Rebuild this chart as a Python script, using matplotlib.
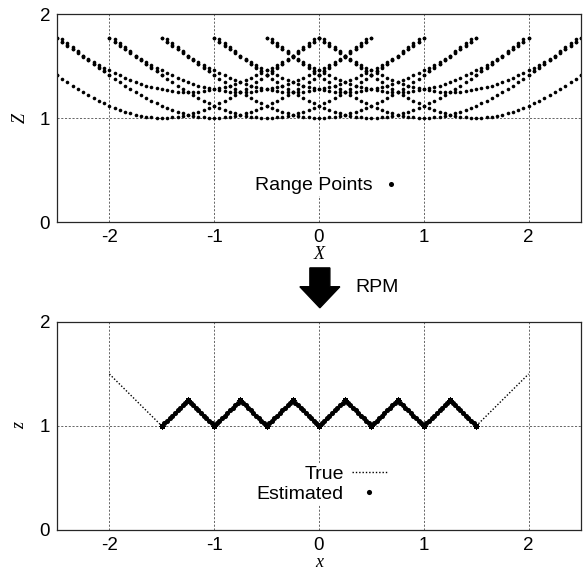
import numpy as np
import matplotlib.pyplot as plt
from matplotlib.patches import FancyArrow

plt.rcParams['font.family'] = ['Liberation Sans', 'DejaVu Sans']
plt.rcParams['axes.unicode_minus'] = False

# true target boundary, vertices
surf_x = [-2.0, -1.5, -1.25, -1.0, -0.75, -0.5, -0.25, 0.0,
          0.25, 0.5, 0.75, 1.0, 1.25, 1.5, 2.0]
surf_z = [1.5, 1.0, 1.25, 1.0, 1.25, 1.0, 1.25, 1.0,
          1.25, 1.0, 1.25, 1.0, 1.25, 1.0, 1.5]

# radar positions along X (z = 0) and the range gate
sensor_x = np.linspace(-2.5, 2.5, 101)
max_range = 1.77

x_ticks = [-2, -1, 0, 1, 2]
z_ticks = [0, 1, 2]


def range_points(sx, vx, vz, rmax):
    """range to edges (inner vertices) and to facets (specular foot)."""
    rx, rz, ex, ez = [], [], [], []
    vx = np.asarray(vx)
    vz = np.asarray(vz)
    for X in sx:
        # edges
        for i in range(1, len(vx) - 1):
            r = np.hypot(X - vx[i], vz[i])
            if r <= rmax:
                rx.append(X); rz.append(r)
                ex.append(vx[i]); ez.append(vz[i])
        # facets
        for i in range(len(vx) - 1):
            p = np.array([vx[i], vz[i]])
            d = np.array([vx[i + 1], vz[i + 1]]) - p
            t = np.dot(np.array([X, 0.0]) - p, d) / np.dot(d, d)
            if 0 <= t <= 1:
                foot = p + t * d
                r = np.hypot(X - foot[0], foot[1])
                if r <= rmax:
                    rx.append(X); rz.append(r)
                    if -1.5 <= foot[0] <= 1.5:
                        ex.append(foot[0]); ez.append(foot[1])
    return rx, rz, ex, ez


rng_x, rng_z, est_x, est_z = range_points(sensor_x, surf_x, surf_z, max_range)

fig = plt.figure(figsize=(5.88, 5.70), dpi=100)
ax1 = fig.add_axes([0.0969, 0.6105, 0.8912, 0.3649])
ax2 = fig.add_axes([0.0969, 0.0702, 0.8912, 0.3649])

ax1.plot(rng_x, rng_z, 'o', color='black', ms=2.6, mew=0, label='Range Points')
leg1 = ax1.legend(loc='center', bbox_to_anchor=(0.515, 0.175), markerfirst=False,
                  fontsize=14, frameon=True, fancybox=False, framealpha=1,
                  edgecolor='none', borderpad=0.1, handlelength=0.8,
                  handletextpad=0.5, markerscale=1.4)

ax2.plot(surf_x, surf_z, color='black', lw=1.0, ls=(0, (1, 1.4)), label='True')
ax2.plot(est_x, est_z, 'o', color='black', ms=3.7, mew=0, label='Estimated')
leg2 = ax2.legend(loc='center', bbox_to_anchor=(0.505, 0.22), markerfirst=False,
                  fontsize=14, frameon=True, fancybox=False, framealpha=1,
                  edgecolor='none', borderpad=0.1, handlelength=1.8,
                  handletextpad=0.4, labelspacing=0.15)

for ax, xl, yl in [(ax1, 'X', 'Z'), (ax2, 'x', 'z')]:
    ax.set_xlim(-2.5, 2.5)
    ax.set_ylim(0, 2)
    ax.set_xticks(x_ticks)
    ax.set_yticks(z_ticks)
    ax.tick_params(length=0, labelsize=13.5, pad=5)
    ax.grid(True, color='0.3', lw=0.6, ls=(0, (2.5, 2)))
    for s in ax.spines.values():
        s.set_linewidth(0.9)
        s.set_color('0.15')
    ax.set_axisbelow(True)

ax1.set_xlabel('X', family='Liberation Serif', style='italic', fontsize=13, labelpad=0)
ax1.set_ylabel('Z', family='Liberation Serif', style='italic', fontsize=13, labelpad=8)
ax2.set_xlabel('x', family='Liberation Serif', style='italic', fontsize=13, labelpad=0)
ax2.set_ylabel('z', family='Liberation Serif', style='italic', fontsize=13, labelpad=8)

# RPM arrow between the panels
fig.add_artist(FancyArrow(0.544, 0.530, 0, -0.070, width=0.034, head_width=0.068,
                          head_length=0.037, length_includes_head=True,
                          color='black', transform=fig.transFigure))
fig.text(0.604, 0.495, 'RPM', fontsize=14, va='center', ha='left')

fig.savefig('out.png', dpi=100)
